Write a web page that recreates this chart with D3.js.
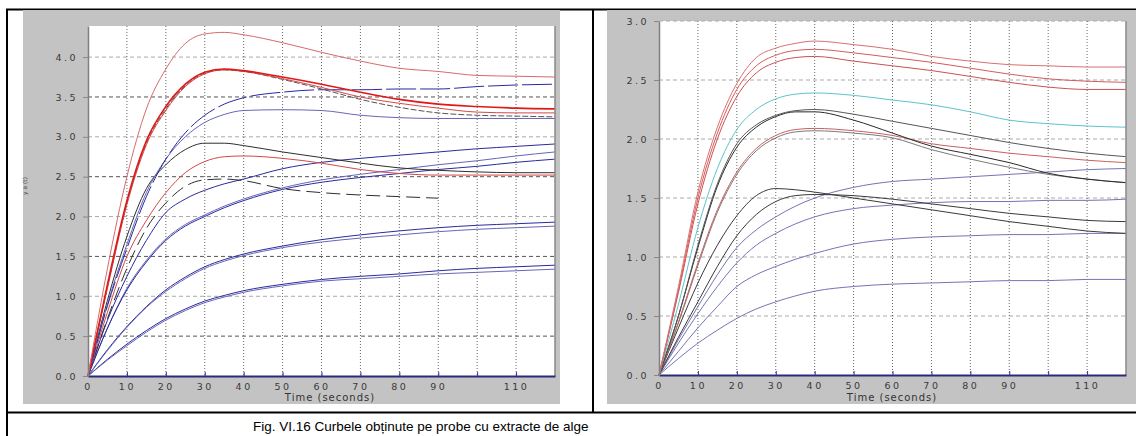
<!DOCTYPE html>
<html>
<head>
<meta charset="utf-8">
<script src="https://cdn.jsdelivr.net/npm/d3@7"></script>
<style>
  body { margin: 0; background: #fff; }
  svg { display: block; }
  .tick text { font-family: "DejaVu Sans", sans-serif; font-size: 9.5px; fill: #3a3a3a; letter-spacing: 2.5px; }
</style>
</head>
<body>
<svg id="chart" width="1136" height="436"></svg>
<script>
// time samples (seconds), shared by every curve
const time = [0, 5, 10, 15, 20, 25, 30, 35, 40, 50, 60, 70, 80, 90, 100, 110, 120];
const xTicks = [0, 10, 20, 30, 40, 50, 60, 70, 80, 90, 100, 110];
const xTickLabels = ['0', '10', '20', '30', '40', '50', '60', '70', '80', '90', '', '110'];
const yTicksLeft = [0, 0.5, 1, 1.5, 2, 2.5, 3, 3.5, 4];
const yTicksRight = [0, 0.5, 1, 1.5, 2, 2.5, 3];

// left panel curves
const leftRedTop   = [0, 1.35, 2.5, 3.35, 3.85, 4.17, 4.29, 4.31, 4.28, 4.18, 4.06, 3.95, 3.86, 3.82, 3.77, 3.76, 3.75];
const leftRedA     = [0, 1.15, 2.2, 2.95, 3.38, 3.66, 3.81, 3.85, 3.83, 3.75, 3.66, 3.56, 3.47, 3.41, 3.38, 3.36, 3.35];
const leftRedB     = [0, 1.1, 2.15, 2.9, 3.33, 3.63, 3.79, 3.84, 3.82, 3.73, 3.62, 3.5, 3.42, 3.36, 3.31, 3.3, 3.3];
const leftDarkA    = [0, 1.12, 2.17, 2.92, 3.35, 3.64, 3.8, 3.84, 3.82, 3.72, 3.6, 3.47, 3.37, 3.3, 3.27, 3.26, 3.25];
const leftBlueTop  = [0, 0.88, 1.6, 2.25, 2.72, 3.05, 3.27, 3.41, 3.49, 3.56, 3.59, 3.59, 3.6, 3.6, 3.63, 3.65, 3.66];
const leftBlueMid  = [0, 0.9, 1.65, 2.3, 2.72, 3.0, 3.18, 3.28, 3.33, 3.34, 3.33, 3.27, 3.24, 3.23, 3.23, 3.23, 3.23];
const leftBlackA   = [0, 0.95, 1.75, 2.35, 2.65, 2.84, 2.92, 2.92, 2.89, 2.81, 2.74, 2.67, 2.61, 2.58, 2.56, 2.55, 2.55];
const leftRedC     = [0, 0.8, 1.5, 1.95, 2.3, 2.55, 2.69, 2.75, 2.76, 2.73, 2.67, 2.59, 2.54, 2.52, 2.52, 2.52, 2.52];
const leftBlackDash = [0, 0.72, 1.35, 1.85, 2.17, 2.38, 2.46, 2.47, 2.45, 2.35, 2.3, 2.27, 2.25, 2.23, null, null, null];
const leftBlueR1   = [0, 0.7, 1.25, 1.7, 2.05, 2.22, 2.33, 2.41, 2.47, 2.6, 2.68, 2.73, 2.77, 2.81, 2.85, 2.88, 2.91];
const leftBlueR2   = [0, 0.6, 1.1, 1.45, 1.72, 1.9, 2.02, 2.13, 2.22, 2.36, 2.46, 2.53, 2.59, 2.65, 2.7, 2.76, 2.81];
const leftBlueR3   = [0, 0.6, 1.08, 1.43, 1.7, 1.88, 2.0, 2.11, 2.2, 2.34, 2.43, 2.49, 2.54, 2.59, 2.63, 2.68, 2.72];
const leftBlueM1   = [0, 0.33, 0.62, 0.87, 1.08, 1.24, 1.37, 1.46, 1.53, 1.63, 1.71, 1.77, 1.82, 1.86, 1.89, 1.91, 1.93];
const leftBlueM2   = [0, 0.32, 0.61, 0.86, 1.06, 1.22, 1.35, 1.44, 1.51, 1.61, 1.68, 1.73, 1.77, 1.81, 1.84, 1.86, 1.88];
const leftBlueB1   = [0, 0.21, 0.4, 0.57, 0.72, 0.84, 0.94, 1.01, 1.07, 1.15, 1.21, 1.25, 1.28, 1.32, 1.35, 1.37, 1.39];
const leftBlueB2   = [0, 0.2, 0.38, 0.55, 0.7, 0.82, 0.92, 0.99, 1.05, 1.13, 1.19, 1.22, 1.25, 1.28, 1.3, 1.32, 1.34];

// right panel curves
const rightRed1   = [0, 0.75, 1.55, 2.1, 2.47, 2.69, 2.77, 2.81, 2.83, 2.8, 2.76, 2.7, 2.66, 2.63, 2.62, 2.61, 2.61];
const rightRed2   = [0, 0.72, 1.5, 2.05, 2.42, 2.62, 2.71, 2.75, 2.76, 2.73, 2.69, 2.65, 2.6, 2.55, 2.51, 2.49, 2.48];
const rightRed3   = [0, 0.7, 1.45, 2.0, 2.36, 2.56, 2.65, 2.69, 2.7, 2.66, 2.62, 2.58, 2.53, 2.48, 2.44, 2.42, 2.42];
const rightCyan   = [0, 0.6, 1.25, 1.75, 2.08, 2.25, 2.34, 2.38, 2.39, 2.37, 2.33, 2.29, 2.23, 2.16, 2.13, 2.11, 2.1];
const rightBlack1 = [0, 0.5, 1.1, 1.62, 1.96, 2.12, 2.2, 2.24, 2.25, 2.21, 2.15, 2.09, 2.03, 1.97, 1.92, 1.88, 1.85];
const rightBlack2 = [0, 0.5, 1.08, 1.6, 1.93, 2.1, 2.19, 2.23, 2.23, 2.16, 2.05, 1.94, 1.87, 1.8, 1.71, 1.66, 1.63];
const rightBrown  = [0, 0.45, 0.95, 1.4, 1.72, 1.92, 2.03, 2.08, 2.09, 2.07, 2.03, 1.96, 1.92, 1.88, 1.85, 1.82, 1.8];
const rightGray   = [0, 0.44, 0.93, 1.38, 1.7, 1.9, 2.01, 2.06, 2.07, 2.05, 2.01, 1.91, 1.83, 1.76, 1.7, 1.66, 1.63];
const rightBlack3 = [0, 0.4, 0.78, 1.1, 1.35, 1.52, 1.58, 1.57, 1.55, 1.5, 1.45, 1.4, 1.35, 1.3, 1.26, 1.22, 1.2];
const rightBlack4 = [0, 0.32, 0.62, 0.92, 1.18, 1.36, 1.47, 1.52, 1.53, 1.52, 1.49, 1.45, 1.41, 1.37, 1.34, 1.31, 1.3];
const rightBlue1  = [0, 0.3, 0.58, 0.85, 1.08, 1.23, 1.34, 1.43, 1.5, 1.59, 1.64, 1.66, 1.68, 1.7, 1.72, 1.74, 1.75];
const rightBlue2  = [0, 0.27, 0.52, 0.75, 0.95, 1.1, 1.2, 1.28, 1.34, 1.41, 1.44, 1.46, 1.47, 1.47, 1.48, 1.48, 1.49];
const rightBlue3  = [0, 0.2, 0.4, 0.58, 0.75, 0.85, 0.92, 0.98, 1.03, 1.11, 1.15, 1.17, 1.18, 1.19, 1.19, 1.2, 1.2];
const rightBlue4  = [0, 0.14, 0.27, 0.38, 0.48, 0.56, 0.62, 0.67, 0.71, 0.75, 0.77, 0.78, 0.79, 0.8, 0.8, 0.81, 0.81];

const caption = 'Fig. VI.16 Curbele obținute pe probe cu extracte de alge';

const svg = d3.select('#chart');

// table borders
const borders = [[6, 9.5, 1136, 9.5], [7, 9, 7, 436], [593, 9, 593, 413], [6, 412.5, 1136, 412.5]];
svg.selectAll('line.border').data(borders).enter().append('line')
  .attr('x1', d => d[0]).attr('y1', d => d[1]).attr('x2', d => d[2]).attr('y2', d => d[3])
  .attr('stroke', '#000').attr('stroke-width', 2);

function drawPanel(p) {
  const g = svg.append('g');
  g.append('rect').attr('x', p.bg[0]).attr('y', p.bg[1])
    .attr('width', p.bg[2] - p.bg[0]).attr('height', p.bg[3] - p.bg[1]).attr('fill', '#c3c3c3');

  const x = d3.scaleLinear().domain([0, 120]).range([p.left, p.right]);
  const y = d3.scaleLinear().domain([0, p.ymax]).range([p.bottom, p.top]);

  g.append('rect').attr('x', p.left).attr('y', p.top)
    .attr('width', p.right - p.left).attr('height', p.bottom - p.top).attr('fill', '#fff');

  // grid
  g.selectAll('line.hg').data(p.yTicks.filter(v => v > 0)).enter().append('line')
    .attr('x1', p.left).attr('x2', p.right).attr('y1', d => y(d)).attr('y2', d => y(d))
    .attr('stroke', d => p.darkGrid && Math.round(d * 2) % 2 === 1 ? '#555' : '#aaa')
    .attr('stroke-width', 1).attr('stroke-dasharray', '4,3');
  g.selectAll('line.vg').data(xTicks.filter(v => v > 0)).enter().append('line')
    .attr('x1', d => x(d)).attr('x2', d => x(d)).attr('y1', p.top).attr('y2', p.bottom)
    .attr('stroke', '#666').attr('stroke-width', 1).attr('stroke-dasharray', '1,2');

  // curves
  const line = d3.line()
    .defined(d => d[1] !== null)
    .x(d => x(d[0])).y(d => y(d[1]))
    .curve(d3.curveMonotoneX);
  p.series.forEach(s => {
    g.append('path')
      .datum(time.map((t, i) => [t, s.values[i]]))
      .attr('d', line)
      .attr('fill', 'none')
      .attr('stroke', s.color)
      .attr('stroke-width', s.width || 1)
      .attr('stroke-dasharray', s.dash || null);
  });

  // frame
  g.append('line').attr('x1', p.right).attr('x2', p.right).attr('y1', p.top).attr('y2', p.bottom)
    .attr('stroke', '#888').attr('stroke-width', 1.5);

  // axes
  const xAxis = d3.axisBottom(x).tickValues(xTicks).tickFormat((d, i) => xTickLabels[i])
    .tickSizeInner(-4).tickSizeOuter(0).tickPadding(7);
  const ax = g.append('g').attr('transform', `translate(0,${p.bottom})`).call(xAxis);
  ax.select('.domain').attr('stroke', '#2a2a7a').attr('stroke-width', 2);
  ax.selectAll('.tick line').attr('stroke', '#3030a0');

  const yAxis = d3.axisLeft(y).tickValues(p.yTicks).tickFormat(d3.format('.1f'))
    .tickSizeInner(5).tickSizeOuter(0).tickPadding(5);
  const ay = g.append('g').attr('transform', `translate(${p.left},0)`).call(yAxis);
  ay.select('.domain').attr('stroke', '#808080').attr('stroke-width', 1.5);
  ay.selectAll('.tick line').attr('stroke', '#888');

  g.append('text').attr('x', p.xLabel).attr('y', 401)
    .attr('text-anchor', 'middle')
    .attr('font-family', '"DejaVu Sans", sans-serif').attr('font-size', 10)
    .attr('letter-spacing', 1).attr('fill', '#333')
    .text('Time (seconds)');
}

const red = '#d24848', redBright = '#e01818', blue = '#2a2aa0', blueLight = '#6666b8', black = '#2e2e2e';

drawPanel({
  bg: [23, 10, 560, 404], left: 88, right: 555, top: 26, bottom: 376, ymax: 4.39,
  yTicks: yTicksLeft, darkGrid: true, xLabel: 330,
  series: [
    { values: leftBlueB1, color: blue }, { values: leftBlueB2, color: blueLight },
    { values: leftBlueM1, color: blue }, { values: leftBlueM2, color: blueLight },
    { values: leftBlueR1, color: blue }, { values: leftBlueR2, color: blueLight }, { values: leftBlueR3, color: blue },
    { values: leftBlackDash, color: black, dash: '14,6' },
    { values: leftRedC, color: red },
    { values: leftBlackA, color: black },
    { values: leftBlueMid, color: blueLight },
    { values: leftBlueTop, color: blue, dash: '30,4' },
    { values: leftDarkA, color: '#555', dash: '6,2' },
    { values: leftRedB, color: red },
    { values: leftRedA, color: redBright, width: 1.6 },
    { values: leftRedTop, color: '#d86a6a' }
  ]
});

drawPanel({
  bg: [607, 10, 1136, 404], left: 659, right: 1126, top: 21, bottom: 375, ymax: 3,
  yTicks: yTicksRight, darkGrid: false, xLabel: 892,
  series: [
    { values: rightBlue4, color: '#7474b4' }, { values: rightBlue3, color: '#7474b4' },
    { values: rightBlue2, color: '#7474b4' }, { values: rightBlue1, color: '#7474b4' },
    { values: rightBlack4, color: '#3a3a3a' }, { values: rightBlack3, color: '#3a3a3a' },
    { values: rightGray, color: '#7a7a7a' }, { values: rightBrown, color: '#c86060' },
    { values: rightBlack2, color: '#2a2a2a' }, { values: rightBlack1, color: '#555' },
    { values: rightCyan, color: '#5cc4cc' },
    { values: rightRed3, color: '#cc5050' }, { values: rightRed2, color: '#d65a5a' },
    { values: rightRed1, color: '#d87070' }
  ]
});

// y label of the left panel
svg.append('text').attr('transform', 'translate(27,186) rotate(-90)')
  .attr('text-anchor', 'middle').attr('font-family', '"DejaVu Sans", sans-serif')
  .attr('font-size', 6).attr('fill', '#444').text('y a (t)');

svg.append('text').attr('x', 253).attr('y', 431)
  .attr('font-family', '"Liberation Sans", Arial, sans-serif').attr('font-size', 13.5)
  .attr('fill', '#000').text(caption);
</script>
</body>
</html>
